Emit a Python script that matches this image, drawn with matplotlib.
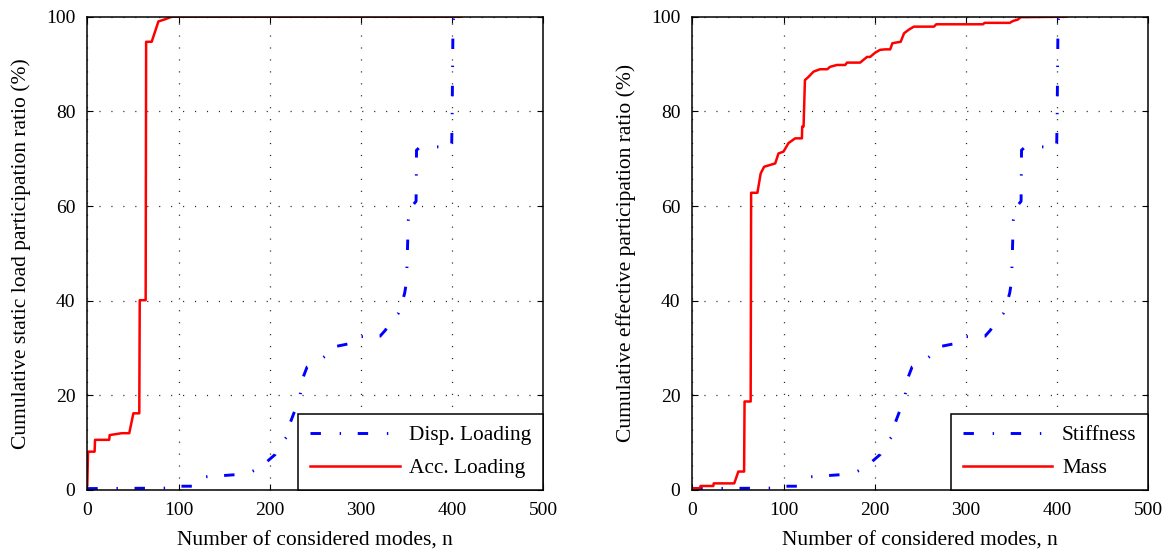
import matplotlib
matplotlib.use("Agg")
import matplotlib.pyplot as plt

plt.rcParams["font.family"] = ["Liberation Serif", "DejaVu Serif"]
plt.rcParams["lines.scale_dashes"] = False
plt.rcParams["mathtext.fontset"] = "stix"

# Cumulative participation (%) versus number of considered modes
stiff_n = [0, 90, 96, 121, 124, 130, 145, 160, 175, 187, 197, 206, 211, 219, 221.5,
           228, 233, 237, 241, 251.5, 262.5, 271.5, 284.5, 299, 300, 321, 327, 332,
           341, 345, 348, 350, 352, 355.7, 360.5, 361, 365, 399.5, 400, 401, 402]
stiff_v = [0.3, 0.4, 0.8, 0.8, 1.8, 2.8, 3.0, 3.2, 3.4, 4.5, 6.0, 7.5, 9.5, 11.3, 13.7,
           17.0, 19.7, 24.0, 26.0, 27.0, 28.5, 30.3, 30.8, 31.3, 32.4, 32.5, 33.8, 35.6,
           37.3, 39.5, 41.6, 44.0, 57.0, 59.9, 61.0, 71.8, 72.5, 72.5, 78.0, 99.0, 100.0]

acc_n = [0, 0.8, 8, 8.5, 24, 24.5, 37.7, 46, 50.5, 57, 57.5, 64, 64.5, 70.6, 78, 86,
         92.5, 410]
acc_v = [1.0, 8.1, 8.1, 10.6, 10.6, 11.6, 12.0, 12.0, 16.2, 16.2, 40.1, 40.1, 94.7,
         94.7, 99.0, 99.5, 100.0, 100.0]

mass_n = [0, 8.5, 9, 23, 23.5, 46, 50.5, 56.8, 57.3, 64, 64.5, 71.4, 75, 78.8, 90.9,
          94.5, 100, 105.5, 112.8, 120.2, 120.5, 122, 123.5, 127.5, 133, 140, 148, 151,
          158.5, 167.6, 169.7, 184, 191.6, 195, 200.5, 206, 211.7, 217, 219.4, 228.5,
          232.2, 237.7, 243, 265, 267.5, 318.7, 320.5, 348, 351.7, 357, 360, 410]
mass_v = [0.35, 0.35, 0.85, 0.85, 1.4, 1.4, 3.9, 3.9, 18.7, 18.7, 62.8, 62.8, 66.9, 68.3,
          69.0, 71.1, 71.5, 73.3, 74.3, 74.3, 76.8, 76.8, 86.6, 87.3, 88.4, 88.9, 88.9,
          89.4, 89.8, 89.8, 90.3, 90.3, 91.5, 91.5, 92.4, 93.0, 93.1, 93.1, 94.4, 94.7,
          96.5, 97.3, 97.9, 97.9, 98.4, 98.4, 98.7, 98.7, 99.1, 99.4, 99.9, 100.0]

x_ticks = [0, 100, 200, 300, 400, 500]
y_ticks = [0, 20, 40, 60, 80, 100]

panels = [
    ("Cumulative static load participation ratio (%)",
     ("Disp. Loading", stiff_n, stiff_v), ("Acc. Loading", acc_n, acc_v)),
    ("Cumulative effective participation ratio (%)",
     ("Stiffness", stiff_n, stiff_v), ("Mass", mass_n, mass_v)),
]

W, H = 1166, 550
fig = plt.figure(figsize=(W / 100, H / 100), dpi=100)
dashdot = (0, (7.5, 13.5, 1.0, 12.0))

for i, (ylabel, blue, red) in enumerate(panels):
    left = 87.3 if i == 0 else 692.3
    ax = fig.add_axes([left / W, 60 / H, 456 / W, 473.3 / H])
    ax.plot(blue[1], blue[2], color="#0000ff", lw=2.1, linestyle=dashdot,
            label=blue[0], zorder=3)
    ax.plot(red[1], red[2], color="#ff0000", lw=1.8, label=red[0], zorder=3)
    ax.set_xlim(0, 500)
    ax.set_ylim(0, 100)
    ax.set_xticks(x_ticks)
    ax.set_yticks(y_ticks)
    ax.grid(True, color="#222222", linestyle=(0, (0.8, 7.8)), linewidth=0.9)
    ax.tick_params(direction="in", top=True, right=True, length=4, width=0.8,
                   labelsize=14, pad=8.5)
    for s in ax.spines.values():
        s.set_linewidth(1.1)
        s.set_zorder(4)
    ax.set_xlabel("Number of considered modes, n", fontsize=15.5, labelpad=9)
    ax.set_ylabel(ylabel, fontsize=15.5, labelpad=11)
    leg = ax.legend(loc="lower right", borderaxespad=0, fontsize=15.4,
                    handlelength=4.2, handletextpad=0.45, borderpad=0.55,
                    labelspacing=0.6, fancybox=False, framealpha=1,
                    edgecolor="black")
    leg.get_frame().set_linewidth(1.1)
    leg.set_zorder(5)

fig.savefig("out.png", dpi=100)
